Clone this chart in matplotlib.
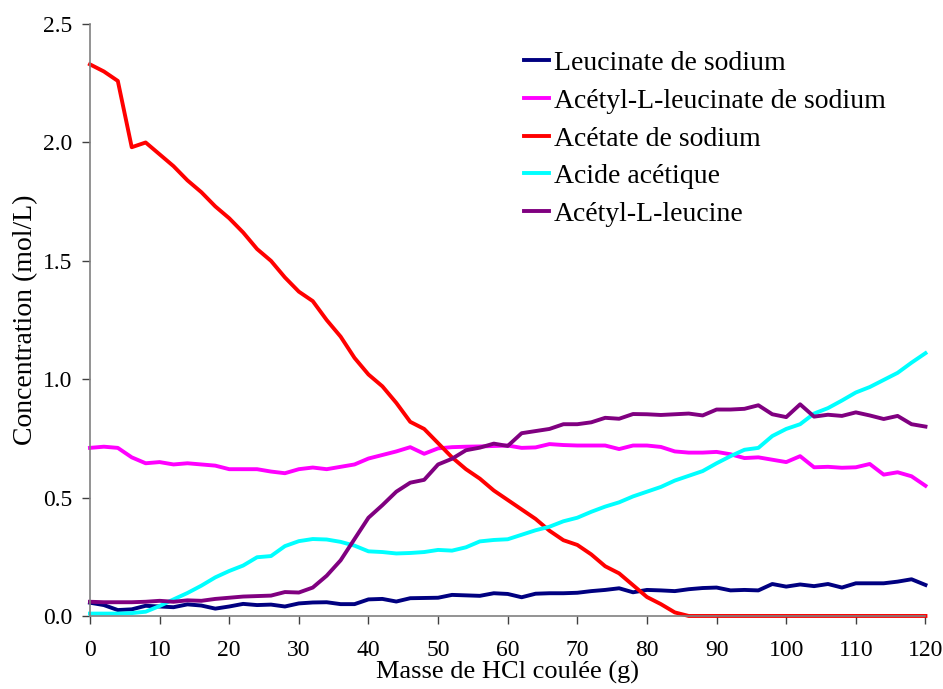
import numpy as np
import matplotlib
matplotlib.use("Agg")
import matplotlib.pyplot as plt

plt.rcParams['font.family'] = ['Liberation Serif', 'DejaVu Serif']

# masse de HCl coulee (g), un point tous les 2 g
masse = np.arange(0, 121, 2)

leucinate = [0.056, 0.046, 0.025, 0.028, 0.043, 0.040, 0.037, 0.049, 0.044, 0.031,
             0.040, 0.051, 0.046, 0.048, 0.040, 0.053, 0.057, 0.058, 0.050, 0.050,
             0.070, 0.072, 0.061, 0.075, 0.076, 0.077, 0.089, 0.087, 0.085, 0.096,
             0.093, 0.079, 0.094, 0.096, 0.096, 0.098, 0.105, 0.110, 0.117, 0.100,
             0.110, 0.108, 0.105, 0.113, 0.118, 0.120, 0.108, 0.110, 0.108, 0.135,
             0.124, 0.133, 0.126, 0.135, 0.120, 0.138, 0.138, 0.138, 0.145, 0.155,
             0.131]

acetyl_leucinate = [0.710, 0.715, 0.710, 0.670, 0.645, 0.650, 0.640, 0.645, 0.640, 0.635,
                    0.620, 0.620, 0.620, 0.610, 0.603, 0.620, 0.627, 0.620, 0.630, 0.640,
                    0.665, 0.680, 0.695, 0.713, 0.685, 0.708, 0.713, 0.715, 0.716, 0.718,
                    0.720, 0.710, 0.712, 0.726, 0.722, 0.720, 0.720, 0.720, 0.705, 0.720,
                    0.720, 0.714, 0.695, 0.690, 0.690, 0.693, 0.683, 0.667, 0.670, 0.660,
                    0.650, 0.675, 0.628, 0.630, 0.626, 0.628, 0.642, 0.597, 0.607, 0.590,
                    0.550]

acetate = [2.33, 2.30, 2.26, 1.98, 2.00, 1.95, 1.90, 1.84, 1.79, 1.73,
           1.68, 1.62, 1.55, 1.50, 1.43, 1.37, 1.33, 1.25, 1.18, 1.09,
           1.02, 0.97, 0.90, 0.82, 0.79, 0.73, 0.67, 0.62, 0.58, 0.53,
           0.49, 0.45, 0.41, 0.36, 0.32, 0.30, 0.26, 0.21, 0.18, 0.13,
           0.08, 0.05, 0.015, 0.0, 0.0, 0.0, 0.0, 0.0, 0.0, 0.0,
           0.0, 0.0, 0.0, 0.0, 0.0, 0.0, 0.0, 0.0, 0.0, 0.0,
           0.0]

acide_acetique = [0.010, 0.010, 0.010, 0.012, 0.018, 0.042, 0.070, 0.097, 0.128, 0.163,
                  0.190, 0.213, 0.248, 0.253, 0.295, 0.316, 0.325, 0.323, 0.313, 0.297,
                  0.273, 0.270, 0.264, 0.266, 0.270, 0.279, 0.276, 0.290, 0.315, 0.321,
                  0.324, 0.343, 0.362, 0.377, 0.400, 0.415, 0.440, 0.462, 0.480, 0.505,
                  0.525, 0.545, 0.572, 0.592, 0.612, 0.645, 0.675, 0.702, 0.710, 0.760,
                  0.790, 0.810, 0.855, 0.878, 0.910, 0.944, 0.967, 0.997, 1.027, 1.070,
                  1.110]

acetyl_leucine = [0.060, 0.058, 0.058, 0.058, 0.060, 0.064, 0.060, 0.066, 0.064, 0.072,
                  0.077, 0.082, 0.084, 0.086, 0.101, 0.099, 0.120, 0.170, 0.235, 0.325,
                  0.415, 0.468, 0.525, 0.563, 0.575, 0.640, 0.664, 0.700, 0.711, 0.728,
                  0.718, 0.772, 0.781, 0.790, 0.810, 0.810, 0.818, 0.837, 0.833, 0.853,
                  0.852, 0.849, 0.852, 0.855, 0.847, 0.872, 0.872, 0.875, 0.890, 0.852,
                  0.840, 0.894, 0.842, 0.850, 0.845, 0.860, 0.847, 0.832, 0.845, 0.810,
                  0.800]

series = [
    ("Leucinate de sodium", leucinate, "#000080"),
    ("Acétyl-L-leucinate de sodium", acetyl_leucinate, "#FF00FF"),
    ("Acétate de sodium", acetate, "#FF0000"),
    ("Acide acétique", acide_acetique, "#00FFFF"),
    ("Acétyl-L-leucine", acetyl_leucine, "#800080"),
]

fig = plt.figure(figsize=(9.43, 6.89), dpi=100)
ax = fig.add_axes([0.0954, 0.106, 0.886, 0.859])

for nom, vals, col in series:
    ax.plot(masse, vals, color=col, lw=2.8, label=nom,
            solid_joinstyle='round', clip_on=False)

ax.set_xlim(0, 120)
ax.set_ylim(0, 2.5)
ax.set_xticks(np.arange(0, 121, 10))
ax.set_yticks(np.arange(0, 2.51, 0.5))
ax.yaxis.set_major_formatter(matplotlib.ticker.FormatStrFormatter('%.1f'))

for s in ['top', 'right']:
    ax.spines[s].set_visible(False)
for s in ['left', 'bottom']:
    ax.spines[s].set_color('#808080')
    ax.spines[s].set_linewidth(1.2)

ax.tick_params(direction='out', length=6, width=1, color='#404040', labelsize=17)
ax.tick_params(axis='x', pad=11)
ax.tick_params(axis='y', pad=7)

ax.set_xlabel("Masse de HCl coulée (g)", fontsize=19, labelpad=0)
ax.set_ylabel("Concentration (mol/L)", fontsize=20, labelpad=3)

ax.legend(loc='upper left', bbox_to_anchor=(0.519, 0.955), frameon=False,
          fontsize=20, handlelength=0.9, labelspacing=0.44, handletextpad=0.2,
          borderpad=0, borderaxespad=0)

fig.savefig("out.png", dpi=100)
